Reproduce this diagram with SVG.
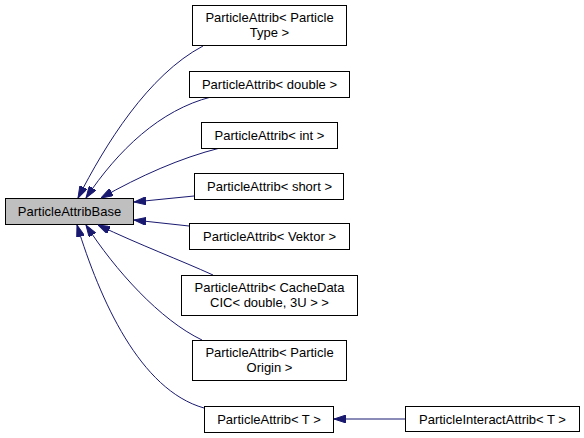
<svg xmlns="http://www.w3.org/2000/svg" width="584" height="438" viewBox="0 0 584 438">
<style>
.n rect{fill:#ffffff;stroke:#000000;stroke-width:1}
.n text{font-family:"Liberation Sans",Arial,sans-serif;font-size:13px;fill:#000000;text-anchor:middle}
#base rect{fill:#bfbfbf}
.e path{fill:none;stroke:#191970;stroke-width:1;marker-start:url(#ah)}
</style>
<defs>
<marker id="ah" viewBox="0 0 12 8" refX="12" refY="4" markerWidth="12" markerHeight="8" markerUnits="userSpaceOnUse" orient="auto-start-reverse">
<path d="M0,0 L12,4 L0,8 Z" fill="#191970" stroke="#191970" stroke-width="1"/>
</marker>
</defs>
<rect width="584" height="438" fill="#ffffff"/>
<g id="base" class="n"><rect x="5.5" y="198.5" width="128" height="26"/><text x="69.5" y="216">ParticleAttribBase</text></g>
<g class="e">
<path d="M78,198 C105,145 148,75 203,46"/>
<path d="M86,198 C118,150 160,110 211,97"/>
<path d="M101,198 C140,176 180,158 220,148"/>
<path d="M134,202 L194,196"/>
<path d="M134,220 L189,226"/>
<path d="M98,225 C140,245 180,260 213,275"/>
<path d="M86,225 C115,270 160,320 202,340"/>
<path d="M77,225 C100,300 140,390 204,408"/>
<path d="M334,419 L405,419"/>
</g>
<g id="n1" class="n"><rect x="192.5" y="5.5" width="154" height="40"/><text x="269.5" y="21.5">ParticleAttrib&lt; Particle</text><text x="269.5" y="37">Type &gt;</text></g>
<g id="n2" class="n"><rect x="189.5" y="71.5" width="160" height="26"/><text x="269.5" y="89">ParticleAttrib&lt; double &gt;</text></g>
<g id="n3" class="n"><rect x="201.5" y="122.5" width="136" height="26"/><text x="269.5" y="140">ParticleAttrib&lt; int &gt;</text></g>
<g id="n4" class="n"><rect x="194.5" y="173.5" width="149" height="26"/><text x="269.5" y="191">ParticleAttrib&lt; short &gt;</text></g>
<g id="n5" class="n"><rect x="189.5" y="223.5" width="160" height="26"/><text x="269.5" y="241">ParticleAttrib&lt; Vektor &gt;</text></g>
<g id="n6" class="n"><rect x="181.5" y="275.5" width="176" height="40"/><text x="269.5" y="291.5">ParticleAttrib&lt; CacheData</text><text x="269.5" y="307">CIC&lt; double, 3U &gt; &gt;</text></g>
<g id="n7" class="n"><rect x="192.5" y="340.5" width="154" height="40"/><text x="269.5" y="356.5">ParticleAttrib&lt; Particle</text><text x="269.5" y="372">Origin &gt;</text></g>
<g id="n8" class="n"><rect x="204.5" y="406.5" width="129" height="26"/><text x="269" y="424">ParticleAttrib&lt; T &gt;</text></g>
<g id="n9" class="n"><rect x="405.5" y="406.5" width="174" height="25"/><text x="492.5" y="423.5">ParticleInteractAttrib&lt; T &gt;</text></g>
</svg>
